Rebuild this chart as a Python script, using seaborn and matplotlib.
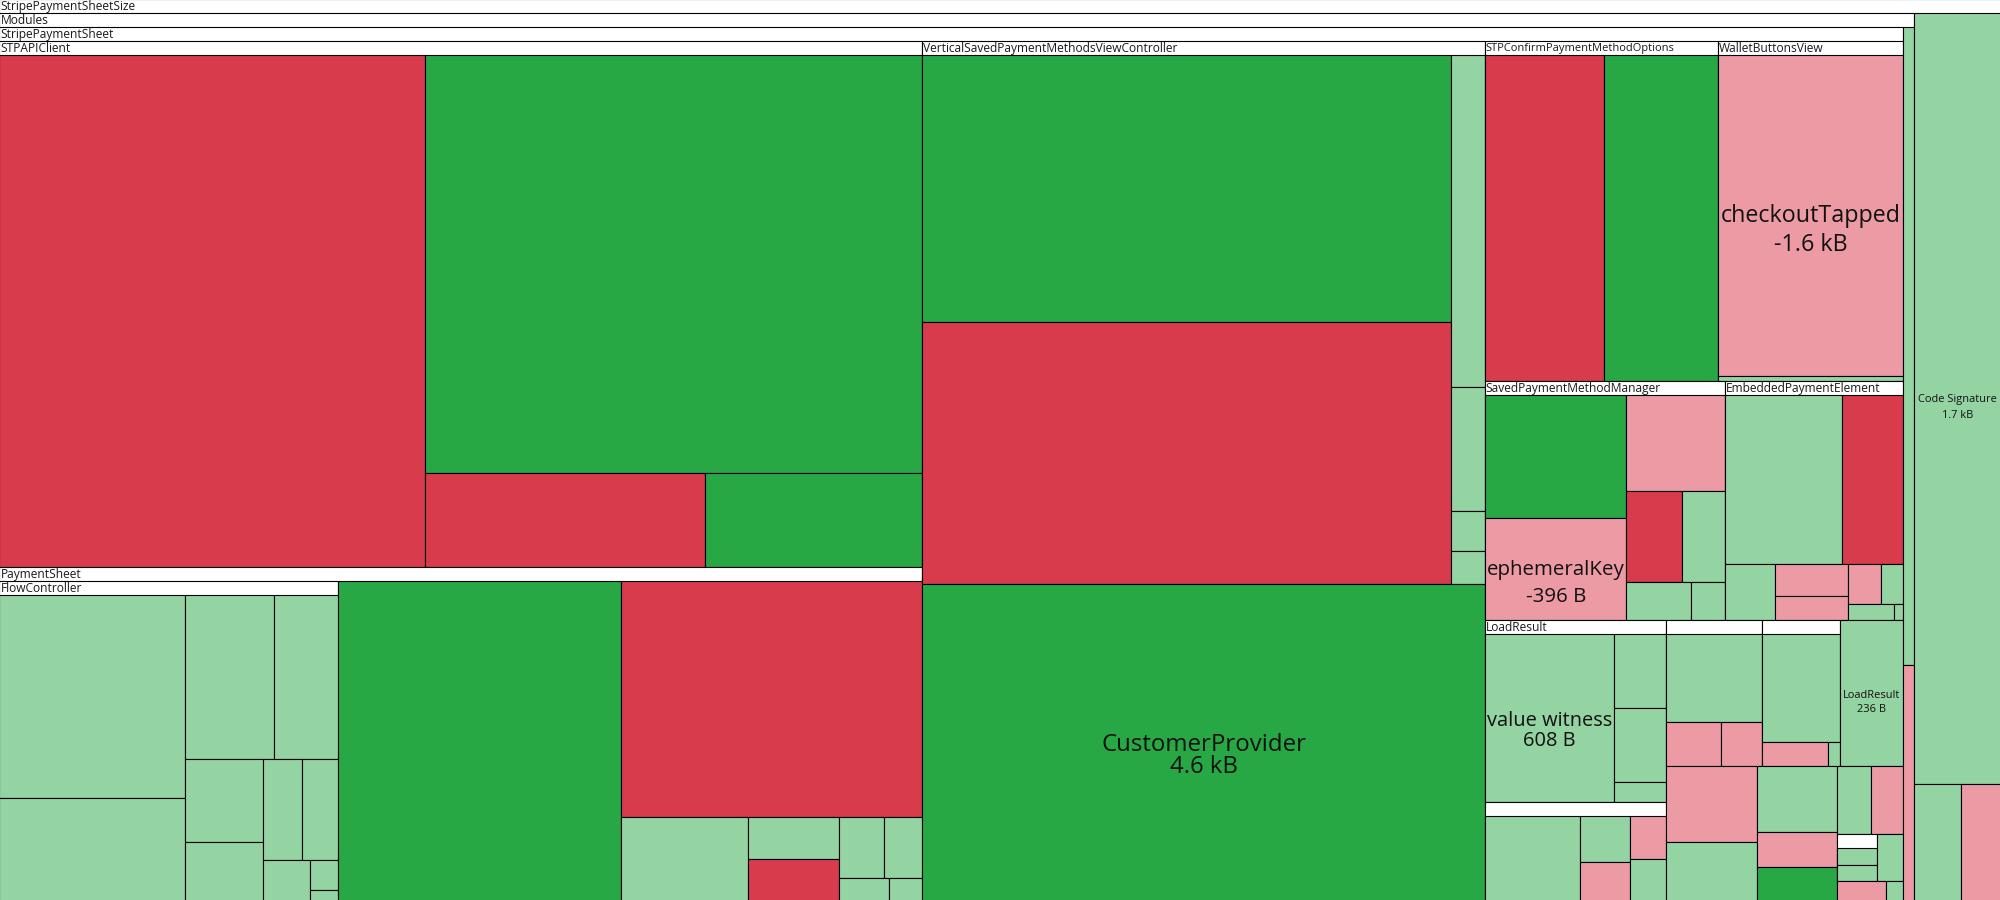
import matplotlib
matplotlib.use("Agg")
import matplotlib.pyplot as plt
import pandas as pd
import seaborn as sns

# sizes are estimated from the picture, only the ratio between siblings matters
# kinds: G big growth, R big shrink, g small growth, r small shrink
root_values = [1699829, 66846, 5499, 4645]
modules_values = [1662454, 7007, 2596]
sheet_values = [485000, 308115, 305350, 178267, 79300, 62922, 57336, 42471,
                32942, 17865, 13987, 11365, 9135, 6916, 5369, 5280, 2800, 2720,
                2312, 2156, 1833, 1255, 980, 340]

api_client_values = [218317, 207704, 26320, 20389]
api_client_kinds = ["R", "G", "R", "G"]

payment_sheet_values = [108045, 89990, 70810, 10600, 3822, 3778, 2720, 2349, 1127, 759]
payment_sheet_kinds = ["flow", "G", "R", "g", "g", "R", "g", "g", "g", "g"]

flow_values = [37689, 19133, 14534, 10451, 6474, 4579, 3939, 3636, 1913, 840, 300]
flow_kinds = ["g"] * 11

vertical_values = [141508, 138334, 11288, 4233, 1360, 1105]
vertical_kinds = ["G", "R", "g", "g", "g", "g"]

confirm_values = [38892, 37294]
confirm_kinds = ["R", "G"]

wallet_values = [59068, 1014]
wallet_kinds = ["r", "g"]

saved_values = [17380, 14413, 9504, 5079, 3900, 2490, 1302]
saved_kinds = ["G", "r", "r", "R", "g", "g", "g"]

embedded_values = [19773, 10258, 2800, 2336, 1752, 1280, 908, 720, 155]
embedded_kinds = ["g", "R", "g", "r", "r", "r", "g", "g", "g"]

load_result_values = [21672, 3848, 3848, 1040]
load_result_kinds = ["g", "g", "g", "g"]

unnamed_a_values = [8047, 2254, 1896, 1554, 1530]
unnamed_a_kinds = ["g", "g", "r", "r", "g"]

unnamed_b_values = [8448, 2404, 1792]
unnamed_b_kinds = ["g", "r", "r"]

unnamed_c_values = [8424, 1564, 284]
unnamed_c_kinds = ["g", "r", "g"]

unnamed_d_values = [663, 624]
unnamed_d_kinds = ["g", "g"]

sheet_tail_kinds = ["r", "g", "g", "r", "G", "g", "r", "group", "g", "r", "g"]
modules_tail_kinds = ["g", "r"]
root_tail_kinds = ["g", "r"]

# amount, font px, gap to the amount line in px, nudge of the block in px
LABEL_STYLE = {
    "CustomerProvider": ("4.6 kB", 24, 22, 3),
    "checkoutTapped": ("-1.6 kB", 23.2, 29, 0.5),
    "ephemeralKey": ("-396 B", 20.5, 27, 0.5),
    "value witness": ("608 B", 20, 19.5, 3),
    "Code Signature": ("1.7 kB", 11, 16, 1.5),
    "LoadResult": ("236 B", 11, 14, 2),
}

COLORS = dict(zip(["G", "R", "g", "r"], sns.color_palette(["#28a745", "#d83b4b", "#94d3a2", "#ec9ba5"])))
HEADER = 14
RATIO = (1 + 5 ** 0.5) / 2


def leaf(value, kind, name=None):
    return {"value": value, "kind": kind, "name": name, "kids": None}


def group(value, name, kids):
    return {"value": value, "kind": None, "name": name, "kids": kids}


def leaves(values, kinds, names=None):
    names = names or {}
    return [leaf(v, k, names.get(i)) for i, (v, k) in enumerate(zip(values, kinds))]


def squarify(kids, x0, y0, x1, y1):
    """Same row logic as d3.treemapSquarify, siblings stay in listed order."""
    total = sum(k["value"] for k in kids)
    i0 = 0
    n = len(kids)
    while i0 < n:
        dx, dy = x1 - x0, y1 - y0
        i1 = i0 + 1
        row_sum = low = high = kids[i0]["value"]
        alpha = max(dy / dx, dx / dy) / (total * RATIO)
        beta = row_sum * row_sum * alpha
        best = max(high / beta, beta / low)
        while i1 < n:
            v = kids[i1]["value"]
            s = row_sum + v
            lo, hi = min(low, v), max(high, v)
            beta = s * s * alpha
            ratio = max(hi / beta, beta / lo)
            if ratio > best:
                break
            row_sum, low, high, best = s, lo, hi, ratio
            i1 += 1
        row = kids[i0:i1]
        if dx < dy:
            y_end = y0 + dy * row_sum / total
            x = x0
            for k in row:
                w = dx * k["value"] / row_sum
                k["box"] = (x, y0, x + w, y_end)
                x += w
            y0 = y_end
        else:
            x_end = x0 + dx * row_sum / total
            y = y0
            for k in row:
                h = dy * k["value"] / row_sum
                k["box"] = (x0, y, x_end, y + h)
                y += h
            x0 = x_end
        total -= row_sum
        i0 = i1


def layout(node, rows):
    x0, y0, x1, y1 = node["box"]
    rows.append({"x": x0, "y": y0, "w": x1 - x0, "h": y1 - y0, "kind": node["kind"],
                 "name": node["name"], "is_group": node["kids"] is not None})
    if node["kids"]:
        squarify(node["kids"], x0, y0 + HEADER, x1, y1)
        for kid in node["kids"]:
            layout(kid, rows)


# tail of the big module, everything after the two named columns on the right
unnamed_d = group(sheet_values[20], None, leaves(unnamed_d_values, unnamed_d_kinds))
sheet_tail = [unnamed_d if k == "group" else leaf(v, k)
              for v, k in zip(sheet_values[13:], sheet_tail_kinds)]

flow = group(payment_sheet_values[0], "FlowController", leaves(flow_values, flow_kinds))
payment_kids = [flow] + leaves(payment_sheet_values[1:], payment_sheet_kinds[1:])

sheet_kids = [
    group(sheet_values[0], "STPAPIClient", leaves(api_client_values, api_client_kinds)),
    group(sheet_values[1], "PaymentSheet", payment_kids),
    group(sheet_values[2], "VerticalSavedPaymentMethodsViewController",
          leaves(vertical_values, vertical_kinds)),
    leaf(sheet_values[3], "G", "CustomerProvider"),
    group(sheet_values[4], "STPConfirmPaymentMethodOptions", leaves(confirm_values, confirm_kinds)),
    group(sheet_values[5], "WalletButtonsView", leaves(wallet_values, wallet_kinds, {0: "checkoutTapped"})),
    group(sheet_values[6], "SavedPaymentMethodManager", leaves(saved_values, saved_kinds, {1: "ephemeralKey"})),
    group(sheet_values[7], "EmbeddedPaymentElement", leaves(embedded_values, embedded_kinds)),
    group(sheet_values[8], "LoadResult", leaves(load_result_values, load_result_kinds, {0: "value witness"})),
    group(sheet_values[9], None, leaves(unnamed_a_values, unnamed_a_kinds)),
    group(sheet_values[10], None, leaves(unnamed_b_values, unnamed_b_kinds)),
    group(sheet_values[11], None, leaves(unnamed_c_values, unnamed_c_kinds)),
    leaf(sheet_values[12], "g", "LoadResult"),
] + sheet_tail

modules_kids = [group(modules_values[0], "StripePaymentSheet", sheet_kids)] + leaves(modules_values[1:], modules_tail_kinds)
root_kids = [group(root_values[0], "Modules", modules_kids), leaf(root_values[1], "g", "Code Signature")] + leaves(root_values[2:], root_tail_kinds)

root = group(sum(root_values), "StripePaymentSheetSize", root_kids)
root["box"] = (-1, -1, 2001, 901)

rows = []
layout(root, rows)
cells = pd.DataFrame(rows)

sns.set_theme(style="white")
plt.rcParams["font.family"] = ["Open Sans", "DejaVu Sans"]

fig = plt.figure(figsize=(20, 9), dpi=100)
ax = fig.add_axes([0, 0, 1, 1])

colors = [(1, 1, 1) if g else COLORS[k] for g, k in zip(cells["is_group"], cells["kind"])]
ax.bar(cells["x"], cells["h"], width=cells["w"], bottom=cells["y"], align="edge",
       color=colors, edgecolor="black", linewidth=0.8)

PX = 0.72
for row in cells.itertuples():
    if not row.name:
        continue
    if row.is_group:
        font_px = 11.1 if row.name == "STPConfirmPaymentMethodOptions" else 12.05
        ax.text(max(row.x, 0) + 0.5, row.y + HEADER / 2 + 0.5, row.name, fontsize=font_px * PX,
                ha="left", va="center", color="#1a1a1a")
    else:
        amount, font_px, gap, nudge = LABEL_STYLE[row.name]
        cx, cy = row.x + row.w / 2, row.y + row.h / 2 + nudge
        ax.text(cx, cy, row.name, fontsize=font_px * PX, ha="center", va="center", color="#111111")
        ax.text(cx, cy + gap, amount, fontsize=font_px * PX, ha="center", va="center", color="#111111")

ax.set_xlim(0, 2000)
ax.set_ylim(900, 0)
ax.axis("off")
sns.despine(ax=ax, left=True, bottom=True)

fig.savefig("out.png", dpi=100, facecolor="white")
